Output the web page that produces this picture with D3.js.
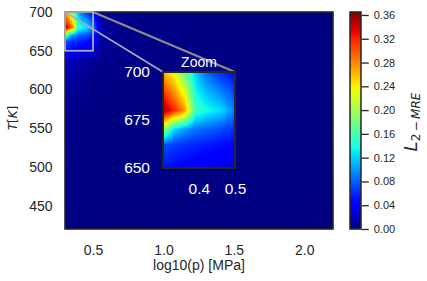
<!DOCTYPE html>
<html>
<head>
<meta charset="utf-8">
<script src="https://cdn.jsdelivr.net/npm/d3@7"></script>
<style>
  body { margin: 0; background: #fff; }
  svg text { font-family: "Liberation Sans", Arial, sans-serif; }
</style>
</head>
<body>
<div id="chart"></div>
<script>
// Data
// ==================================================================
// grid nodes: log10(p) columns, temperature rows (top to bottom)
const logP = [0.301, 0.33, 0.36, 0.39, 0.42, 0.46, 0.5, 0.56, 0.7, 1.0, 2.204];
const tempK = [700, 680, 670, 662, 650, 635, 610, 580, 420];
// L2-MRE at every node, one row per temperature
const errRows = [
    [0.265, 0.232, 0.175, 0.12, 0.085, 0.06, 0.045, 0.008, 0.003, 0.002, 0.001],
    [0.358, 0.32, 0.278, 0.155, 0.14, 0.125, 0.09, 0.012, 0.003, 0.002, 0.001],
    [0.2, 0.125, 0.1, 0.088, 0.08, 0.072, 0.06, 0.01, 0.003, 0.002, 0.001],
    [0.075, 0.068, 0.062, 0.058, 0.054, 0.05, 0.045, 0.009, 0.003, 0.002, 0.001],
    [0.05, 0.046, 0.042, 0.038, 0.034, 0.031, 0.028, 0.008, 0.003, 0.002, 0.001],
    [0.022, 0.018, 0.015, 0.012, 0.01, 0.008, 0.006, 0.004, 0.002, 0.001, 0.001],
    [0.012, 0.011, 0.01, 0.008, 0.005, 0.004, 0.003, 0.002, 0.001, 0.001, 0.001],
    [0.005, 0.004, 0.004, 0.003, 0.002, 0.002, 0.001, 0.001, 0.001, 0.001, 0.001],
    [0.0005, 0.0005, 0.0005, 0.0005, 0.0005, 0.0005, 0.0005, 0.0005, 0.0005, 0.0005, 0.0005]
];
const errMax = 0.365;

const xTicks = [0.5, 1.0, 1.5, 2.0];
const yTicks = [450, 500, 550, 600, 650, 700];
const cbTicks = [0, 0.04, 0.08, 0.12, 0.16, 0.20, 0.24, 0.28, 0.32, 0.36];
const zoomX = [0.301, 0.5];
const zoomT = [650, 700];
const zoomXTicks = [0.4, 0.5];
const zoomYTicks = [650, 675, 700];

// Layout
// ==================================================================
const W = 427, H = 281,
    box = {left: 65, right: 333, top: 12, bottom: 229},
    inBox = {left: 163, right: 235, top: 72, bottom: 168},
    cb = {left: 350, right: 361, top: 12, bottom: 229},
    ink = "#262626";

// jet colormap (matplotlib segment data)
const jetStops = [0, 0.11, 0.125, 0.34, 0.35, 0.375, 0.64, 0.65, 0.66, 0.89, 0.91, 1];
const jetR = d3.scaleLinear().domain([0, 0.35, 0.66, 0.89, 1]).range([0, 0, 1, 1, 0.5]).clamp(true);
const jetG = d3.scaleLinear().domain([0, 0.125, 0.375, 0.64, 0.91, 1]).range([0, 0, 1, 1, 0, 0]).clamp(true);
const jetB = d3.scaleLinear().domain([0, 0.11, 0.34, 0.65, 1]).range([0.5, 1, 1, 0, 0]).clamp(true);
function jet(f) {
    return [Math.round(255 * jetR(f)), Math.round(255 * jetG(f)), Math.round(255 * jetB(f))];
}

/**
 * Gouraud style value between grid nodes
 */
function errAt(x, t) {
    let i = Math.max(0, Math.min(d3.bisectRight(logP, x) - 1, logP.length - 2));
    let j = 0;
    while (j < tempK.length - 2 && t < tempK[j + 1]) j++;
    let u = (x - logP[i]) / (logP[i + 1] - logP[i]);
    let v = (tempK[j] - t) / (tempK[j] - tempK[j + 1]);
    u = Math.max(0, Math.min(1, u));
    v = Math.max(0, Math.min(1, v));
    let a = errRows[j][i], b = errRows[j][i + 1],
        c = errRows[j + 1][i], d = errRows[j + 1][i + 1];
    return (a * (1 - u) + b * u) * (1 - v) + (c * (1 - u) + d * u) * v;
}

function heatImage(xs, ys, w, h) {
    let canvas = document.createElement("canvas");
    canvas.width = w;
    canvas.height = h;
    let ctx = canvas.getContext("2d");
    let img = ctx.createImageData(w, h);
    let x0 = xs.range()[0], y0 = ys.range()[1];
    for (let py = 0; py < h; py++) {
        let t = ys.invert(y0 + py + 0.5);
        for (let px = 0; px < w; px++) {
            let x = xs.invert(x0 + px + 0.5);
            let c = jet(errAt(x, t) / errMax);
            let k = 4 * (py * w + px);
            img.data[k] = c[0];
            img.data[k + 1] = c[1];
            img.data[k + 2] = c[2];
            img.data[k + 3] = 255;
        }
    }
    ctx.putImageData(img, 0, 0);
    return canvas.toDataURL();
}

// Scales
// ==================================================================
let xScale = d3.scaleLinear().domain([logP[0], logP[logP.length - 1]]).range([box.left, box.right]);
let yScale = d3.scaleLinear().domain([420, 700]).range([box.bottom, box.top]);
let xIn = d3.scaleLinear().domain(zoomX).range([inBox.left, inBox.right]);
let yIn = d3.scaleLinear().domain(zoomT).range([inBox.bottom, inBox.top]);
let cScale = d3.scaleLinear().domain([0, errMax]).range([cb.bottom, cb.top]);

// Svg
// ==================================================================
let svg = d3.select("#chart")
    .append("svg")
        .attr("width", W)
        .attr("height", H);

// main heatmap
svg.append("image")
    .attr("x", box.left).attr("y", box.top)
    .attr("width", box.right - box.left).attr("height", box.bottom - box.top)
    .attr("preserveAspectRatio", "none")
    .attr("href", heatImage(xScale, yScale, box.right - box.left, box.bottom - box.top));

svg.append("rect")
    .attr("x", box.left).attr("y", box.top)
    .attr("width", box.right - box.left).attr("height", box.bottom - box.top)
    .attr("fill", "none").attr("stroke", ink).attr("stroke-width", 1.6);

// axes
let gx = svg.append("g")
    .attr("transform", "translate(0," + box.bottom + ")")
    .call(d3.axisBottom(xScale).tickValues(xTicks).tickFormat(d3.format(".1f")).tickSize(0).tickPadding(16));
let gy = svg.append("g")
    .attr("transform", "translate(" + box.left + ",0)")
    .call(d3.axisLeft(yScale).tickValues(yTicks).tickSize(0).tickPadding(12.5));
[gx, gy].forEach(g => {
    g.select(".domain").remove();
    g.selectAll("text").attr("font-size", "14px").attr("fill", ink)
        .style("font-family", "'Liberation Sans', Arial, sans-serif");
});

svg.append("text")
    .attr("x", (box.left + box.right) / 2)
    .attr("y", 270)
    .attr("text-anchor", "middle")
    .attr("font-size", "14px")
    .attr("fill", ink)
    .text("log10(p) [MPa]");

let yl = svg.append("text")
    .attr("transform", "translate(17,118) rotate(-90)")
    .attr("text-anchor", "middle")
    .attr("font-size", "12px")
    .attr("fill", ink)
    .style("font-family", "'DejaVu Sans', sans-serif");
yl.append("tspan").attr("font-style", "italic").text("T");
yl.append("tspan").text("[");
yl.append("tspan").attr("font-style", "italic").text("K");
yl.append("tspan").text("]");

// zoom marker and connectors
svg.append("line")
    .attr("x1", xScale(zoomX[0])).attr("y1", yScale(zoomT[1]))
    .attr("x2", xIn(zoomX[0])).attr("y2", yIn(zoomT[1]))
    .attr("stroke", "#a9a9c4").attr("stroke-width", 1.5);
svg.append("line")
    .attr("x1", xScale(zoomX[1])).attr("y1", yScale(zoomT[1]))
    .attr("x2", xIn(zoomX[1])).attr("y2", yIn(zoomT[1]))
    .attr("stroke", "#8c8c8c").attr("stroke-width", 2);
svg.append("rect")
    .attr("x", xScale(zoomX[0])).attr("y", yScale(zoomT[1]))
    .attr("width", xScale(zoomX[1]) - xScale(zoomX[0]))
    .attr("height", yScale(zoomT[0]) - yScale(zoomT[1]))
    .attr("fill", "none").attr("stroke", "#ababab").attr("stroke-width", 1.8);

// inset
svg.append("image")
    .attr("x", inBox.left).attr("y", inBox.top)
    .attr("width", inBox.right - inBox.left).attr("height", inBox.bottom - inBox.top)
    .attr("preserveAspectRatio", "none")
    .attr("href", heatImage(xIn, yIn, inBox.right - inBox.left, inBox.bottom - inBox.top));
svg.append("rect")
    .attr("x", inBox.left).attr("y", inBox.top)
    .attr("width", inBox.right - inBox.left).attr("height", inBox.bottom - inBox.top)
    .attr("fill", "none").attr("stroke", ink).attr("stroke-width", 2);

let gxi = svg.append("g")
    .attr("transform", "translate(0," + inBox.bottom + ")")
    .call(d3.axisBottom(xIn).tickValues(zoomXTicks).tickFormat(d3.format(".1f")).tickSize(0).tickPadding(14.5));
let gyi = svg.append("g")
    .attr("transform", "translate(" + inBox.left + ",0)")
    .call(d3.axisLeft(yIn).tickValues(zoomYTicks).tickSize(0).tickPadding(13));
[gxi, gyi].forEach(g => {
    g.select(".domain").remove();
    g.selectAll("text").attr("font-size", "15.5px").attr("fill", "#fff")
        .style("font-family", "'Liberation Sans', Arial, sans-serif");
});
svg.append("text")
    .attr("x", (inBox.left + inBox.right) / 2)
    .attr("y", 67)
    .attr("text-anchor", "middle")
    .attr("font-size", "14px")
    .attr("fill", "#fff")
    .text("Zoom");

// colorbar
let grad = svg.append("defs").append("linearGradient")
    .attr("id", "jet")
    .attr("x1", 0).attr("y1", 1).attr("x2", 0).attr("y2", 0);
grad.selectAll("stop")
    .data(jetStops)
    .enter()
    .append("stop")
        .attr("offset", d => d)
        .attr("stop-color", d => "rgb(" + jet(d).join(",") + ")");
svg.append("rect")
    .attr("x", cb.left).attr("y", cb.top)
    .attr("width", cb.right - cb.left).attr("height", cb.bottom - cb.top)
    .attr("fill", "url(#jet)")
    .attr("stroke", ink).attr("stroke-width", 1.5);
let gc = svg.append("g")
    .attr("transform", "translate(" + (cb.right + 0.75) + ",0)")
    .call(d3.axisRight(cScale).tickValues(cbTicks).tickFormat(d3.format(".2f")).tickSize(7).tickPadding(5));
gc.select(".domain").remove();
gc.selectAll("line").attr("stroke", ink).attr("stroke-width", 1.3);
gc.selectAll("text").attr("font-size", "11px").attr("fill", ink)
    .style("font-family", "'Liberation Sans', Arial, sans-serif");

let cl = svg.append("text")
    .attr("transform", "translate(417,122) rotate(-90)")
    .attr("text-anchor", "middle")
    .attr("fill", ink)
    .style("font-family", "'DejaVu Sans', sans-serif");
cl.append("tspan").attr("font-size", "18px").attr("font-style", "italic").text("L");
cl.append("tspan").attr("font-size", "12px").attr("dy", 3).text("2\u2009\u2212\u2009");
cl.append("tspan").attr("font-size", "12px").attr("font-style", "italic").text("MRE");
</script>
</body>
</html>
